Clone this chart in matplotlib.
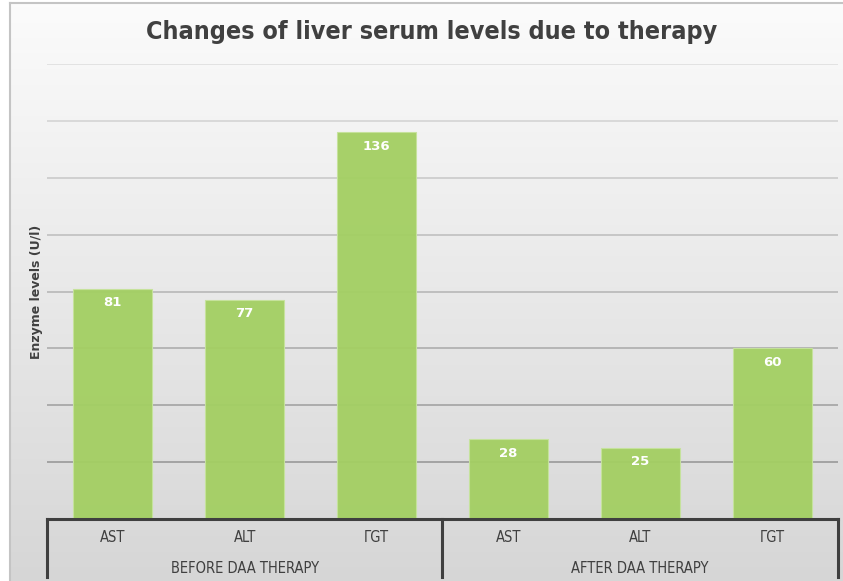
import matplotlib
matplotlib.use("Agg")
import matplotlib.pyplot as plt
import numpy as np

groups = ["BEFORE DAA THERAPY", "AFTER DAA THERAPY"]
enzymes = ["AST", "ALT", "ΓGT"]
before = [81, 77, 136]
after = [28, 25, 60]

values = before + after
labels = enzymes + enzymes

W, H = 843, 581
fig = plt.figure(figsize=(W / 100, H / 100), dpi=100)
fig.patch.set_facecolor("white")

# gradient background panel with thin grey border
bg = fig.add_axes([10 / W, 0, 1 - 10 / W, (H - 3) / H])
grad = np.linspace(0, 1, 256).reshape(-1, 1)
cols = np.array([0.985, 0.985, 0.985]) * (1 - grad[..., None]) + np.array([0.84, 0.84, 0.84]) * grad[..., None]
cols = np.clip(cols, 0, 1)
bg.imshow(cols, aspect="auto", extent=[0, 1, 0, 1], origin="upper")
bg.set_xticks([])
bg.set_yticks([])
for s in bg.spines.values():
    s.set_color("#c4c4c4")
    s.set_linewidth(1.5)
bg.spines["bottom"].set_visible(False)
bg.spines["right"].set_visible(False)

ax = fig.add_axes([47 / W, (H - 519) / H, (838 - 47) / W, (519 - 64) / H])
ax.patch.set_alpha(0)
ax.set_ylim(0, 160)
ax.set_xlim(-0.5, 5.5)

x = np.arange(len(values))
bars = ax.bar(x, values, width=0.6, color="#a3cf62", alpha=0.95,
              edgecolor="#c6e39c", linewidth=0.8, zorder=2)

ax.set_yticks(np.arange(20, 161, 20))
ax.yaxis.grid(True, zorder=1)
grid_lines = ax.get_ygridlines()
for i, gl in enumerate(grid_lines):
    shade = 0.62 + 0.26 * i / (len(grid_lines) - 1)
    gl.set_color((shade, shade, shade))
    gl.set_linewidth(1.3)
ax.tick_params(axis="y", length=0, labelleft=False)
ax.tick_params(axis="x", length=0, labelbottom=False)
for s in ax.spines.values():
    s.set_visible(False)

for b, v in zip(bars, values):
    ax.annotate(str(v), (b.get_x() + b.get_width() / 2, v), xytext=(0, -10),
                textcoords="offset points", ha="center", va="center",
                color="white", fontsize=9.5, fontweight="bold",
                family=["DejaVu Sans"], zorder=3)

# multi level category axis
trans = ax.get_xaxis_transform()
lc = "#3f3f3f"
ax.plot([-0.5, 5.5], [0, 0], color=lc, lw=2.2, transform=trans, clip_on=False, zorder=4)
for xv in [-0.5, 2.5, 5.5]:
    ax.plot([xv, xv], [0, -0.128], color=lc, lw=2.2, transform=trans, clip_on=False, zorder=4)
for xi, lab in zip(x, labels):
    ax.text(xi, -0.04, lab, transform=trans, ha="center", va="center",
            fontsize=10.5, color="#404040", family=["DejaVu Sans"], stretch="condensed")
for gi, g in enumerate(groups):
    ax.text(gi * 3 + 1, -0.108, g, transform=trans, ha="center", va="center",
            fontsize=10.5, color="#404040", family=["DejaVu Sans"], stretch="condensed")

ax.set_ylabel("Enzyme levels (U/l)", fontsize=9, fontweight="bold", color="#404040",
              family=["DejaVu Sans"], labelpad=3)

fig.text(432 / W, 1 - 32 / H, "Changes of liver serum levels due to therapy",
         ha="center", va="center", fontsize=18, fontweight="bold", color="#404040",
         family=["DejaVu Sans"], stretch="condensed")

fig.savefig("out.png", dpi=100)
